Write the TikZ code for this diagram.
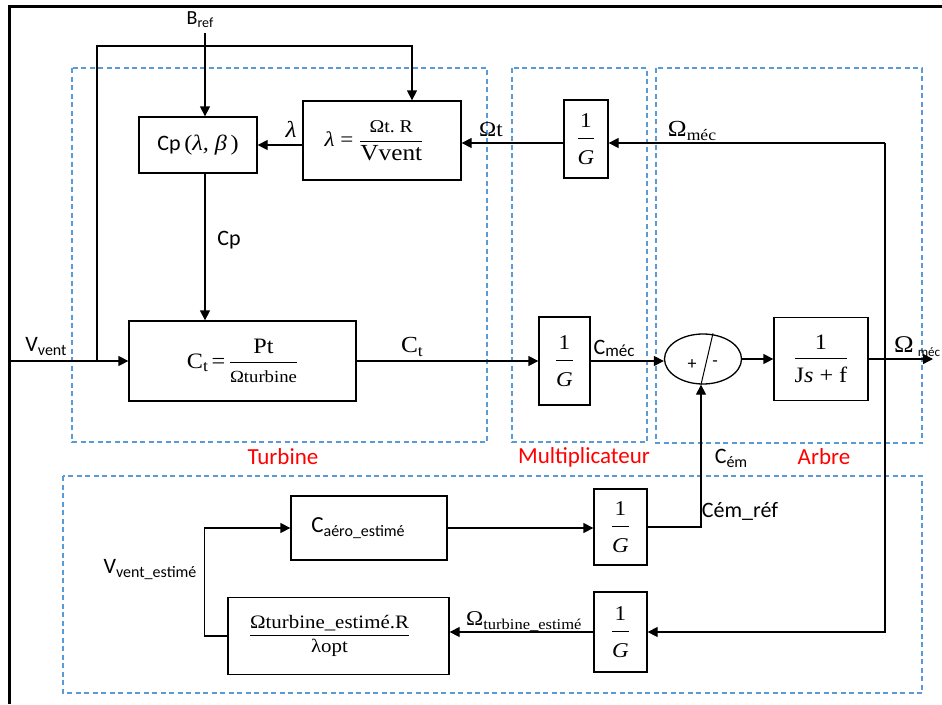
\documentclass[tikz,border=0pt]{standalone}
\usepackage{fontspec}
\setmainfont{Carlito}
\newfontfamily\camb[FakeStretch=1.1]{Liberation Serif}
\usetikzlibrary{arrows.meta,shapes.geometric}
\definecolor{dashblue}{RGB}{91,155,213}
\definecolor{lblred}{RGB}{255,0,0}
\newcommand\fs[1]{\fontsize{#1}{#1}\selectfont}
\newcommand\lowsub[3]{\raisebox{-#1}{\fs{#2}#3}}
\newcommand\ffrac[2]{$\displaystyle{\mbox{#1}\above 1pt\mbox{#2}}$}
\newcommand\gfrac[2]{$\displaystyle{\mbox{#1\rule[-7pt]{0pt}{7pt}}\above 1.2pt\mbox{\rule{0pt}{22pt}#2}}$}
\begin{document}
\begin{tikzpicture}[x=1pt,y=-1pt,
  blk/.style={draw, line width=1.3pt, inner sep=0pt},
  arr/.style={line width=1.3pt, -{Triangle[length=10pt,width=10pt]}},
  ln/.style={line width=1.3pt},
  grp/.style={draw=dashblue, line width=1.2pt, dash pattern=on 5pt off 3.5pt},
  lbl/.style={inner sep=0pt, font=\fs{22}},
  grplbl/.style={text=lblred, inner sep=0pt, font=\fs{23}}
]
\useasboundingbox (0,0) rectangle (942,704);
\fill[white] (0,0) rectangle (942,704);
\clip (0,0) rectangle (942,704);

% outer frame
\draw[line width=3pt] (9,704) -- (9,6.5) -- (942,6.5);

% groups
\draw[grp] (72,68) rectangle (487,442);
\draw[grp] (512,68) rectangle (647,442);
\draw[grp] (656,68) rectangle (922,443);
\draw[grp] (63,476) rectangle (922,693);

% blocks
\node[blk, minimum width=118pt, minimum height=56pt, font=\fs{22}] (cp) at (198,145)
  {Cp\,{\camb (\itshape λ, β\upshape\,)}};
\node[blk, minimum width=158pt, minimum height=79pt, font=\camb\fs{21}] (lam) at (382,140.5)
  {{\itshape λ} = \ffrac{\camb\fs{18}Ωt.\ R}{\camb\fs{23}Vvent}\hspace*{16pt}};
\node[blk, minimum width=227pt, minimum height=80pt, font=\camb\fs{22}] (ct) at (242.5,361)
  {C\lowsub{3pt}{16}{t}\,=\,\ffrac{\camb\fs{22}Pt}{\camb\fs{17}Ωturbine}};
\node[blk, minimum width=44pt, minimum height=78pt, font=\camb\fs{21}] (g1) at (586,139) {\gfrac{1}{\itshape G}};
\node[blk, minimum width=51pt, minimum height=88pt, font=\camb\fs{21}] (g2) at (564.5,361) {\gfrac{1}{\itshape G}};
\node[draw, ellipse, line width=1.3pt, minimum width=77pt, minimum height=50pt, inner sep=0pt] (sum) at (703,359) {};
\node[blk, minimum width=94pt, minimum height=83pt, font=\camb\fs{22}] (js) at (821,359)
  {\ffrac{1\rule[-5pt]{0pt}{5pt}}{\rule{0pt}{20pt}J{\itshape s} + f}};
\node[blk, minimum width=156pt, minimum height=64pt, font=\fs{23}] (caero) at (369,528) {C\lowsub{4pt}{16}{aéro\_estimé}\hspace*{22pt}};
\node[blk, minimum width=221pt, minimum height=77pt, font=\camb\fs{19}] (oest) at (338.5,636)
  {\ffrac{\camb\fs{19}Ωturbine\_estimé.R}{\camb\fs{19}λopt}\hspace*{18pt}};
\node[blk, minimum width=53pt, minimum height=76pt, font=\camb\fs{21}] (g3) at (620.5,527) {\gfrac{1}{\itshape G}};
\node[blk, minimum width=53pt, minimum height=80pt, font=\camb\fs{21}] (g4) at (620.5,632) {\gfrac{1}{\itshape G}};

% summation details
\draw[line width=1pt] ([xshift=-2pt]sum.south) -- ([xshift=10pt]sum.north);
\node[font=\fs{18}, inner sep=0pt] (plus) at (692,365) {+};
\node[font=\fs{18}, inner sep=0pt] (minus) at (715,364) {-};

% labels
\node[lbl, font=\fs{20}] (bref) at (200,20) {B\lowsub{3pt}{14}{ref}};
\node[lbl] (vvent) at (46,346) {V\lowsub{4pt}{16}{vent}};
\node[inner sep=0pt, font=\camb\itshape\fs{23}] (lamlbl) at (291,129) {λ};
\node[lbl] (cplbl) at (229,240) {Cp};
\node[inner sep=0pt, font=\camb\fs{21}] (otlbl) at (491,130) {Ωt};
\node[inner sep=0pt, font=\camb\fs{23}] (omlbl) at (692,131) {Ω\lowsub{4pt}{16}{méc}};
\node[inner sep=0pt, font=\camb\fs{23}] (ctlbl) at (412,347) {C\lowsub{4pt}{16}{t}};
\node[lbl] (cmeclbl) at (614,348) {C\lowsub{2pt}{17}{méc}};
\node[inner sep=0pt, anchor=west, font=\camb\fs{24}] (omout) at (894,347) {Ω\,{\normalfont\lowsub{4pt}{13}{méc}}};
\node[lbl] (cemlbl) at (731,458) {C\lowsub{4pt}{16}{ém}};
\node[lbl] (cemref) at (740,511) {Cém\_réf};
\node[lbl] (vest) at (150,570) {V\lowsub{4pt}{16}{vent\_estimé}};
\node[inner sep=0pt, anchor=west, font=\camb\fs{21}] (otest) at (466,622) {Ω\lowsub{4pt}{15}{turbine\_estimé}};
\node[grplbl] (turb) at (283,457) {Turbine};
\node[grplbl] (mult) at (584,457) {Multiplicateur};
\node[grplbl] (arbre) at (824,457) {Arbre};

% coordinates
\coordinate (brefend) at (205,33);
\coordinate (vin) at (9,361);
\coordinate (br) at (97,361);
\coordinate (topj) at (412,46);
\coordinate (fb) at (885,143);
\coordinate (out) at (933,361);

% connectors
\draw[arr] (brefend) -- (brefend |- cp.north);
\draw[arr] (brefend |- cp.south) -- (brefend |- ct.north);
\draw[arr] (vin) -- (ct.west);
\draw[arr] (br) |- (topj) -- (topj |- lam.north);
\draw[arr] (cp.east -| lam.west) -- (cp.east);
\draw[arr] (g1.west |- fb) -- (lam.east |- fb);
\draw[arr] (fb) -- (g1.east |- fb);
\draw[arr] (fb) |- (g4.east);
\draw[arr] (ct.east) -- (g2.west);
\draw[arr] (g2.east) -- (g2.east -| sum.west);
\draw[arr] (sum.east |- js.west) -- (js.west);
\draw[arr] (js.east) -- (js.east -| out);
\draw[arr] (g3.east) -| ([xshift=-2pt]sum.south);
\draw[arr] (caero.east) -- (caero.east -| g3.west);
\draw[arr] (g4.west) -- (g4.west -| oest.east);
\draw[arr] (oest.west) -- ++(-23,0) |- (caero.west);
\end{tikzpicture}
\end{document}
